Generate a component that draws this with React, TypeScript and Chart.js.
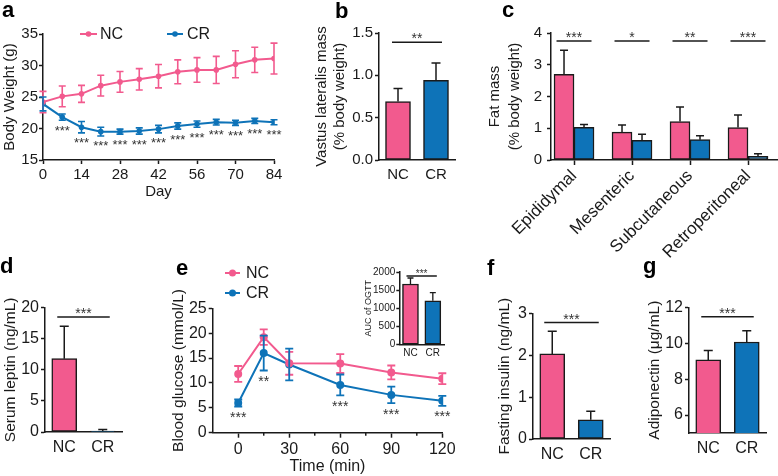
import React, { useEffect, useRef } from 'react';
import { Chart, registerables } from 'chart.js';
Chart.register(...registerables);

const FONT = '"Liberation Sans", Arial, Helvetica, sans-serif';
const PINK = '#F25A8E';
const BLUE = '#0E73B8';
const INK = '#1a1a1a';
const STAR = '#333333';

// ---------- a: body weight over time ----------
const days = [0, 7, 14, 21, 28, 35, 42, 49, 56, 63, 70, 77, 84];
const ncWeight = [24.2, 25.1, 25.5, 26.8, 27.4, 27.8, 28.3, 29.0, 29.3, 29.3, 30.2, 30.9, 31.1];
const ncWeightErr = [1.7, 1.65, 1.35, 1.65, 1.65, 1.7, 1.85, 1.9, 1.95, 2.15, 2.15, 2.0, 2.45];
const crWeight = [23.9, 21.8, 20.2, 19.5, 19.5, 19.6, 19.9, 20.4, 20.7, 21.0, 20.9, 21.2, 21.0];
const crWeightErr = [1.1, 0.5, 0.9, 0.7, 0.4, 0.5, 0.6, 0.5, 0.5, 0.45, 0.4, 0.4, 0.4];
const crWeightSig = ['', '***', '***', '***', '***', '***', '***', '***', '***', '***', '***', '***', '***'];

// ---------- b: vastus lateralis ----------
const groups = ['NC', 'CR'];
const vastus = [0.69, 0.94];
const vastusErr = [0.155, 0.205];

// ---------- c: fat mass ----------
const depots = ['Epididymal', 'Mesenteric', 'Subcutaneous', 'Retroperitoneal'];
const fatNC = [2.7, 0.88, 1.21, 1.02];
const fatNCErr = [0.76, 0.22, 0.46, 0.4];
const fatCR = [1.03, 0.62, 0.64, 0.115];
const fatCRErr = [0.09, 0.19, 0.12, 0.085];
const fatSig = ['***', '*', '**', '***'];

// ---------- d: serum leptin ----------
const leptin = [11.8, 0.15];
const leptinErr = [5.2, 0.25];

// ---------- e: OGTT ----------
const times = [0, 15, 30, 60, 90, 120];
const ncGlucose = [11.8, 19.2, 13.95, 13.9, 12.1, 10.85];
const ncGlucoseErr = [1.6, 1.55, 2.3, 1.9, 1.4, 1.1];
const crGlucose = [5.97, 16.0, 13.7, 9.6, 7.6, 6.4];
const crGlucoseErr = [0.7, 3.5, 3.2, 2.1, 1.65, 1.0];
const crGlucoseSig = ['***', '**', '', '***', '***', '***'];
const auc = [1670, 1210];
const aucErr = [165, 220];

// ---------- f: fasting insulin ----------
const insulin = [2.03, 0.46];
const insulinErr = [0.54, 0.2];

// ---------- g: adiponectin ----------
const adiponectin = [9.07, 10.07];
const adiponectinErr = [0.52, 0.63];
const adiponectinTicks = [6, 8, 10, 12];

type ErrSpec = { ds: number; errs: number[]; mode: 'up' | 'both'; color: string; cap: number; width: number; sig?: string[]; sigGap?: number; sigSize?: number };
type SigSpec = { a: number; b: number; ext: number; y: number; text: string; size: number };
type LegendSpec = { label: string; color: string; x: number; y: number; len: number; r: number; gap: number; size: number };
type DecorSpec = { errors?: ErrSpec[]; sigLines?: SigSpec[]; legend?: LegendSpec[]; letter?: { text: string; x: number; y: number }; minor?: { values: number[]; len: number } };

function decor(spec: DecorSpec) {
  return {
    id: 'decor',
    afterDatasetsDraw(chart: any) {
      const ctx = chart.ctx as CanvasRenderingContext2D;
      const xs = chart.scales.x;
      const ys = chart.scales.y;
      ctx.save();
      (spec.errors || []).forEach((e) => {
        const meta = chart.getDatasetMeta(e.ds);
        const ds = chart.data.datasets[e.ds];
        meta.data.forEach((el: any, i: number) => {
          const raw = ds.data[i];
          const v = typeof raw === 'number' ? raw : raw.y;
          const err = e.errs[i];
          const x = el.x;
          const yt = ys.getPixelForValue(v + err);
          const yb = ys.getPixelForValue(e.mode === 'up' ? v : v - err);
          ctx.strokeStyle = e.color;
          ctx.lineWidth = e.width;
          ctx.beginPath();
          ctx.moveTo(x, yt);
          ctx.lineTo(x, yb);
          ctx.moveTo(x - e.cap / 2, yt);
          ctx.lineTo(x + e.cap / 2, yt);
          if (e.mode === 'both') {
            ctx.moveTo(x - e.cap / 2, yb);
            ctx.lineTo(x + e.cap / 2, yb);
          }
          ctx.stroke();
          if (e.sig && e.sig[i]) {
            const size = e.sigSize || 14;
            ctx.fillStyle = STAR;
            ctx.font = `${size}px ${FONT}`;
            ctx.textAlign = 'center';
            ctx.textBaseline = 'alphabetic';
            ctx.fillText(e.sig[i], x, ys.getPixelForValue(v - err) + (e.sigGap || 7) + size * 0.57);
          }
        });
      });
      (spec.sigLines || []).forEach((s) => {
        const x1 = xs.getPixelForValue(s.a) - s.ext;
        const x2 = xs.getPixelForValue(s.b) + s.ext;
        const y = ys.getPixelForValue(s.y);
        ctx.strokeStyle = INK;
        ctx.lineWidth = 1.5;
        ctx.beginPath();
        ctx.moveTo(x1, y);
        ctx.lineTo(x2, y);
        ctx.stroke();
        ctx.fillStyle = STAR;
        ctx.font = `${s.size}px ${FONT}`;
        ctx.textAlign = 'center';
        ctx.textBaseline = 'alphabetic';
        ctx.fillText(s.text, (x1 + x2) / 2, y + 1);
      });
      (spec.legend || []).forEach((l) => {
        ctx.strokeStyle = l.color;
        ctx.lineWidth = 2;
        ctx.beginPath();
        ctx.moveTo(l.x, l.y);
        ctx.lineTo(l.x + l.len, l.y);
        ctx.stroke();
        ctx.fillStyle = l.color;
        ctx.beginPath();
        ctx.arc(l.x + l.len / 2, l.y, l.r, 0, Math.PI * 2);
        ctx.fill();
        ctx.fillStyle = INK;
        ctx.font = `${l.size}px ${FONT}`;
        ctx.textAlign = 'left';
        ctx.textBaseline = 'middle';
        ctx.fillText(l.label, l.x + l.len + l.gap, l.y + 1);
      });
      if (spec.minor) {
        ctx.strokeStyle = INK;
        ctx.lineWidth = 1.5;
        spec.minor.values.forEach((v) => {
          const x = xs.getPixelForValue(v);
          ctx.beginPath();
          ctx.moveTo(x, xs.top);
          ctx.lineTo(x, xs.top + spec.minor!.len);
          ctx.stroke();
        });
      }
      if (spec.letter) {
        ctx.fillStyle = '#000';
        ctx.font = `bold 22px ${FONT}`;
        ctx.textAlign = 'left';
        ctx.textBaseline = 'alphabetic';
        ctx.fillText(spec.letter.text, spec.letter.x, spec.letter.y);
      }
      ctx.restore();
    },
  };
}

type Area = { l: number; t: number; r: number; b: number };

function base(area: Area, W: number, H: number) {
  return {
    responsive: false,
    maintainAspectRatio: false,
    animation: false,
    devicePixelRatio: 1,
    events: [],
    layout: { padding: { left: area.l - W, top: area.t, right: 778 - area.r, bottom: 476 - area.b - H } },
    plugins: { legend: { display: false }, tooltip: { enabled: false }, title: { display: false } },
  };
}

const fnt = (size: number) => ({ family: FONT, size });

function yAxis(o: { min: number; max: number; step?: number; ticks?: number[]; size: number; title: string | string[]; titleSize: number; titleLH?: number; W: number; tl?: number; pad?: number; fmt?: (v: number) => string }) {
  const ax: any = {
    type: 'linear',
    position: 'left',
    min: o.min,
    max: o.max,
    ticks: { stepSize: o.step, font: fnt(o.size), color: INK, padding: o.pad ?? 2, callback: o.fmt || ((v: any) => String(v)) },
    grid: { drawOnChartArea: false, drawTicks: true, tickLength: o.tl ?? 4, tickColor: INK, tickWidth: 1.5 },
    border: { display: true, color: INK, width: 1.5 },
    title: { display: true, text: o.title, color: INK, font: { family: FONT, size: o.titleSize, lineHeight: o.titleLH ?? 1.2 }, padding: 0 },
    afterFit: (s: any) => { s.width = o.W; },
  };
  if (o.ticks) {
    const t = o.ticks;
    ax.afterBuildTicks = (s: any) => { s.ticks = t.map((v) => ({ value: v })); };
  }
  return ax;
}

function xCat(size: number, H: number, pad: number) {
  return {
    type: 'category',
    position: 'bottom',
    offset: true,
    ticks: { font: fnt(size), color: INK, padding: pad, autoSkip: false, maxRotation: 0, minRotation: 0 },
    grid: { drawOnChartArea: false, drawTicks: false, offset: true },
    border: { display: true, color: INK, width: 1.5 },
    afterFit: (s: any) => { s.height = H; },
  };
}

function barDataset(values: number[], thickness: number) {
  return {
    data: values,
    backgroundColor: [PINK, BLUE],
    borderColor: INK,
    borderWidth: 1.5,
    borderSkipped: false,
    barThickness: thickness,
  };
}

function simpleBar(area: Area, W: number, values: number[], errs: number[], y: any, sig: SigSpec, letter: { text: string; x: number; y: number }, labelSize: number, labelPad: number, cap = 9) {
  return {
    type: 'bar',
    data: { labels: groups, datasets: [barDataset(values, 25)] },
    options: {
      ...base(area, W, 30),
      scales: { x: xCat(labelSize, 30, labelPad), y },
    },
    plugins: [decor({ errors: [{ ds: 0, errs, mode: 'up', color: INK, cap, width: 1.5 }], sigLines: [sig], letter })],
  };
}

function buildConfigs(): any[] {
  // a
  const areaA = { l: 43, t: 34, r: 274, b: 160 };
  const cfgA = {
    type: 'line',
    data: {
      datasets: [
        { data: days.map((d, i) => ({ x: d, y: ncWeight[i] })), borderColor: PINK, backgroundColor: PINK, borderWidth: 2, pointRadius: 2.8, pointBorderWidth: 0, tension: 0 },
        { data: days.map((d, i) => ({ x: d, y: crWeight[i] })), borderColor: BLUE, backgroundColor: BLUE, borderWidth: 2, pointRadius: 2.8, pointBorderWidth: 0, tension: 0 },
      ],
    },
    options: {
      ...base(areaA, 42.5, 41),
      scales: {
        x: {
          type: 'linear', position: 'bottom', min: 0, max: 84,
          ticks: { stepSize: 14, font: fnt(15), color: INK, padding: 2, callback: (v: any) => String(v) },
          grid: { drawOnChartArea: false, drawTicks: true, tickLength: 4, tickColor: INK, tickWidth: 1.5 },
          border: { display: true, color: INK, width: 1.5 },
          title: { display: true, text: 'Day', color: INK, font: fnt(15), padding: 0 },
          afterFit: (s: any) => { s.height = 41; },
        },
        y: yAxis({ min: 15, max: 35, step: 5, size: 15, title: 'Body Weight (g)', titleSize: 15, W: 42.5, tl: 4, pad: 1 }),
      },
    },
    plugins: [decor({
      errors: [
        { ds: 0, errs: ncWeightErr, mode: 'both', color: PINK, cap: 7, width: 1.6 },
        { ds: 1, errs: crWeightErr, mode: 'both', color: BLUE, cap: 7, width: 1.6, sig: crWeightSig, sigGap: 7, sigSize: 13 },
      ],
      legend: [
        { label: 'NC', color: PINK, x: 80, y: 34, len: 17, r: 2.8, gap: 3, size: 16 },
        { label: 'CR', color: BLUE, x: 167, y: 34, len: 16, r: 2.8, gap: 4, size: 16 },
      ],
      letter: { text: 'a', x: 2, y: 17 },
    })],
  };

  // b
  const cfgB = simpleBar(
    { l: 379, t: 33, r: 455, b: 160 }, 66, vastus, vastusErr,
    yAxis({ min: 0, max: 1.5, step: 0.5, size: 15, title: ['Vastus lateralis mass', '(% body weight)'], titleSize: 15, W: 66, tl: 4, pad: 2, fmt: (v) => v.toFixed(1) }),
    { a: 0, b: 1, ext: 6, y: 1.39, text: '**', size: 14 },
    { text: 'b', x: 335, y: 18 }, 15, 6,
  );

  // c
  const areaC = { l: 551, t: 33, r: 777, b: 160 };
  const cfgC = {
    type: 'bar',
    data: {
      datasets: [
        { data: fatNC.map((v, i) => ({ x: i, y: v })), backgroundColor: PINK, borderColor: INK, borderWidth: 1.5, borderSkipped: false, barThickness: 20 },
        { data: fatCR.map((v, i) => ({ x: i, y: v })), backgroundColor: BLUE, borderColor: INK, borderWidth: 1.5, borderSkipped: false, barThickness: 20 },
      ],
    },
    options: {
      ...base(areaC, 65.75, 110),
      scales: {
        x: {
          type: 'linear', position: 'bottom', min: -0.397, max: 3.5, offset: false,
          afterBuildTicks: (s: any) => { s.ticks = depots.map((_, i) => ({ value: i })); },
          ticks: { font: fnt(17), color: INK, padding: 1, autoSkip: false, minRotation: 45, maxRotation: 45, callback: (v: any) => depots[v] },
          grid: { drawOnChartArea: false, drawTicks: true, tickLength: 5, tickColor: INK, tickWidth: 1.5, offset: false },
          border: { display: true, color: INK, width: 1.5 },
          afterFit: (s: any) => { s.height = 110; },
        },
        y: yAxis({ min: 0, max: 4, step: 1, size: 15, title: ['Fat mass', '(% body weight)'], titleSize: 15, titleLH: 1.3, W: 65.75, tl: 4, pad: 5 }),
      },
    },
    plugins: [decor({
      errors: [
        { ds: 0, errs: fatNCErr, mode: 'up', color: INK, cap: 8, width: 1.5 },
        { ds: 1, errs: fatCRErr, mode: 'up', color: INK, cap: 8, width: 1.5 },
      ],
      sigLines: fatSig.map((t, i) => ({ a: i, b: i, ext: 17.5, y: 3.75, text: t, size: 14 })),
      letter: { text: 'c', x: 502, y: 17 },
    })],
  };

  // d
  const cfgD = simpleBar(
    { l: 45, t: 307.7, r: 122, b: 432 }, 44, leptin, leptinErr,
    yAxis({ min: 0, max: 20, step: 5, size: 16, title: 'Serum leptin (ng/mL)', titleSize: 15.5, W: 44, tl: 4, pad: 2 }),
    { a: 0, b: 1, ext: 7, y: 18.5, text: '***', size: 14 },
    { text: 'd', x: 0, y: 273 }, 16, 6,
  );

  // e
  const areaE = { l: 212.7, t: 308.3, r: 442.3, b: 432.7 };
  const cfgE = {
    type: 'line',
    data: {
      datasets: [
        { data: times.map((t, i) => ({ x: t, y: ncGlucose[i] })), borderColor: PINK, backgroundColor: PINK, borderWidth: 2, pointRadius: 4, pointBorderWidth: 0, tension: 0 },
        { data: times.map((t, i) => ({ x: t, y: crGlucose[i] })), borderColor: BLUE, backgroundColor: BLUE, borderWidth: 2, pointRadius: 4, pointBorderWidth: 0, tension: 0 },
      ],
    },
    options: {
      ...base(areaE, 43.4, 43.6),
      scales: {
        x: {
          type: 'linear', position: 'bottom', min: -15, max: 120,
          afterBuildTicks: (s: any) => { s.ticks = [0, 30, 60, 90, 120].map((v) => ({ value: v })); },
          ticks: { font: fnt(16), color: INK, padding: 2, callback: (v: any) => String(v) },
          grid: { drawOnChartArea: false, drawTicks: true, tickLength: 5, tickColor: INK, tickWidth: 1.5 },
          border: { display: true, color: INK, width: 1.5 },
          title: { display: true, text: 'Time (min)', color: INK, font: fnt(16), padding: 0 },
          afterFit: (s: any) => { s.height = 43.6; },
        },
        y: yAxis({ min: 0, max: 25, step: 5, size: 16, title: 'Blood glucose (mmol/L)', titleSize: 15.5, W: 43.4, tl: 4, pad: 2 }),
      },
    },
    plugins: [decor({
      errors: [
        { ds: 0, errs: ncGlucoseErr, mode: 'both', color: PINK, cap: 8, width: 1.8 },
        { ds: 1, errs: crGlucoseErr, mode: 'both', color: BLUE, cap: 8, width: 1.8, sig: crGlucoseSig, sigGap: 7.5, sigSize: 14 },
      ],
      legend: [
        { label: 'NC', color: PINK, x: 225, y: 273, len: 15, r: 3.5, gap: 6, size: 16 },
        { label: 'CR', color: BLUE, x: 225, y: 293, len: 15, r: 3.5, gap: 6, size: 16 },
      ],
      minor: { values: [15, 45, 75, 105], len: 3 },
      letter: { text: 'e', x: 176, y: 275 },
    })],
  };

  // inset
  const areaI = { l: 399.3, t: 272, r: 444, b: 344.7 };
  const cfgI = {
    type: 'bar',
    data: { labels: groups, datasets: [barDataset(auc, 16)] },
    options: {
      ...base(areaI, 35.7, 20),
      scales: {
        x: xCat(10, 20, 3),
        y: yAxis({ min: 0, max: 2000, step: 500, size: 10, title: 'AUC of OGTT', titleSize: 9, W: 35.7, tl: 3, pad: 1 }),
      },
    },
    plugins: [decor({
      errors: [{ ds: 0, errs: aucErr, mode: 'up', color: INK, cap: 6, width: 1.3 }],
      sigLines: [{ a: 0, b: 1, ext: 4, y: 1890, text: '***', size: 10 }],
    })],
  };

  // f
  const cfgF = simpleBar(
    { l: 533, t: 313.3, r: 610, b: 439 }, 38, insulin, insulinErr,
    yAxis({ min: 0, max: 3, step: 1, size: 16, title: 'Fasting insulin (ng/mL)', titleSize: 15.5, W: 38, tl: 4, pad: 2 }),
    { a: 0, b: 1, ext: 8, y: 2.78, text: '***', size: 14 },
    { text: 'f', x: 487, y: 275 }, 16, 6,
  );

  // g
  const cfgG = simpleBar(
    { l: 689, t: 307.3, r: 766, b: 433 }, 44, adiponectin, adiponectinErr,
    yAxis({ min: 5, max: 12, ticks: adiponectinTicks, size: 16, title: 'Adiponectin (\u03bcg/mL)', titleSize: 15.5, W: 44, tl: 4, pad: 2 }),
    { a: 0, b: 1, ext: 7, y: 11.48, text: '***', size: 14 },
    { text: 'g', x: 643, y: 273 }, 16, 6,
  );

  return [cfgA, cfgB, cfgC, cfgD, cfgE, cfgI, cfgF, cfgG];
}

export default function App() {
  const holder = useRef<(HTMLCanvasElement | null)[]>([]);
  useEffect(() => {
    const configs = buildConfigs();
    const charts = configs.map((c, i) => new Chart(holder.current[i] as HTMLCanvasElement, c));
    return () => charts.forEach((c) => c.destroy());
  }, []);
  return (
    <div style={{ position: 'fixed', left: 0, top: 0, width: 778, height: 476, background: '#fff', overflow: 'hidden' }}>
      {Array.from({ length: 8 }).map((_, i) => (
        <canvas
          key={i}
          ref={(el) => { holder.current[i] = el; }}
          width={778}
          height={476}
          style={{ position: 'absolute', left: 0, top: 0, width: 778, height: 476 }}
        />
      ))}
    </div>
  );
}
